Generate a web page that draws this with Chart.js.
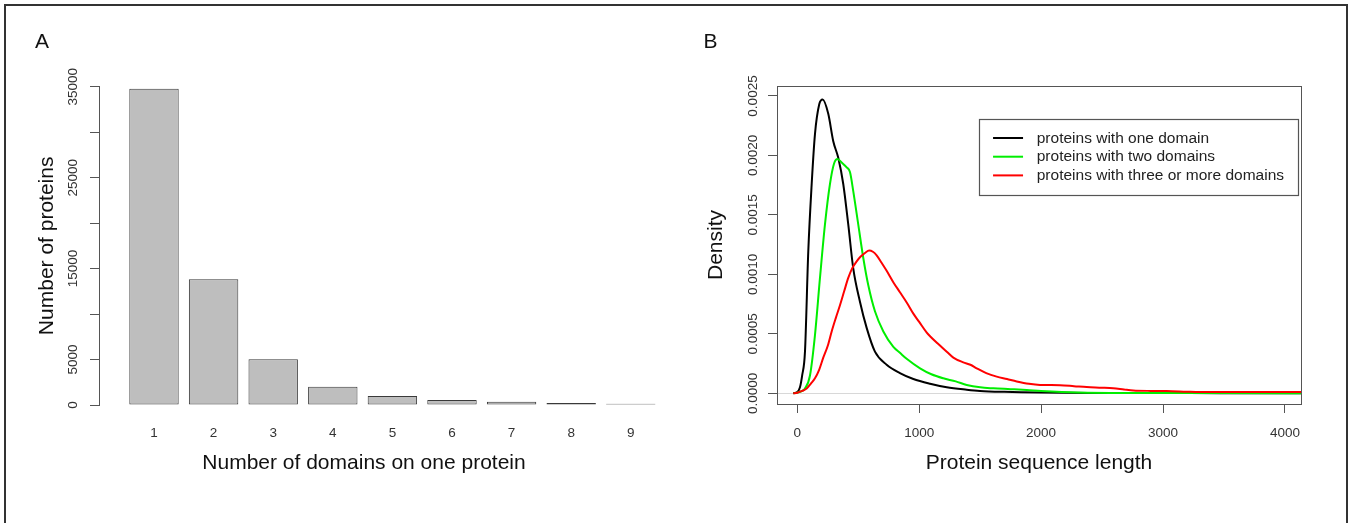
<!DOCTYPE html>
<html><head><meta charset="utf-8">
<script src="https://cdn.jsdelivr.net/npm/chart.js@4.4.1/dist/chart.umd.min.js"></script>
<style>
html,body{margin:0;padding:0;background:#fff;overflow:hidden;width:1353px;height:523px;}
#frame{position:absolute;left:4px;top:4px;width:1344px;height:560px;box-sizing:border-box;border:2px solid #333;border-bottom:none;}
#ca{position:absolute;left:0;top:0;}
#cb{position:absolute;left:680px;top:0;}
</style></head><body>
<div id="frame"></div>
<canvas id="ca" width="680" height="523"></canvas>
<canvas id="cb" width="673" height="523"></canvas>
<script>
// ---- Panel A data ----
const domainCounts = [1, 2, 3, 4, 5, 6, 7, 8, 9];
const proteinCounts = [34780, 13820, 5020, 2010, 990, 550, 360, 220, 140];
const countTicks = [0, 5000, 10000, 15000, 20000, 25000, 30000, 35000];
const countTickLabels = ['0', '5000', '', '15000', '', '25000', '', '35000'];

// ---- Panel B data ----
const lengthTicks = [0, 1000, 2000, 3000, 4000];
const lengthTickLabels = ['0', '1000', '2000', '3000', '4000'];
const densityTicks = [0, 0.0005, 0.001, 0.0015, 0.002, 0.0025];
const densityTickLabels = ['0.0000', '0.0005', '0.0010', '0.0015', '0.0020', '0.0025'];

const seriesNames = ['proteins with one domain', 'proteins with two domains', 'proteins with three or more domains'];

const oneDomainX = [-33, 0, 22, 40, 63, 90, 118, 145, 180, 208, 254, 295, 336, 377, 418, 459, 514, 569, 637, 733, 842, 952, 1089, 1226, 1390, 1499, 1700, 2000, 2500, 3000, 3500, 4132];
const oneDomainY = [0, 0.00001, 0.00005, 0.00015, 0.00035, 0.00119, 0.00176, 0.00218, 0.00243, 0.00247, 0.00235, 0.00212, 0.00198, 0.00176, 0.00142, 0.00105, 0.00077, 0.00055, 0.00035, 0.00024, 0.00017, 0.00012, 0.00008, 0.00005, 0.00003, 0.00002, 0.000012, 0.000006, 0.000003, 0.000002, 0.000001, 0.000001];

const twoDomainX = [-30, 0, 40, 63, 104, 145, 186, 227, 268, 301, 330, 364, 405, 432, 459, 500, 541, 582, 637, 706, 788, 842, 897, 1007, 1100, 1198, 1300, 1390, 1500, 1608, 1750, 1882, 2000, 2300, 2800, 3500, 4132];
const twoDomainY = [0, 0.000005, 0.00002, 0.00004, 0.00015, 0.00049, 0.00097, 0.00142, 0.00176, 0.00193, 0.00197, 0.00194, 0.0019, 0.00186, 0.0017, 0.00142, 0.00114, 0.00091, 0.00069, 0.00052, 0.00039, 0.00034, 0.00029, 0.00021, 0.00016, 0.000126, 0.0001, 0.00007, 0.00005, 0.000042, 0.000035, 0.000028, 0.00002, 0.000007, 0.000003, 0.000002, 0.000001];

const threeDomainX = [-33, 0, 40, 77, 110, 145, 180, 213, 250, 282, 315, 350, 385, 418, 450, 487, 520, 555, 590, 620, 651, 690, 733, 790, 842, 900, 952, 1000, 1062, 1089, 1150, 1226, 1280, 1362, 1420, 1472, 1550, 1636, 1720, 1800, 1900, 1991, 2155, 2270, 2374, 2500, 2592, 2680, 2756, 2900, 3030, 3194, 3300, 3440, 3713, 3900, 4132];
const threeDomainY = [0, 0.000005, 0.00002, 0.00004, 0.00008, 0.000126, 0.0002, 0.0003, 0.0004, 0.00052, 0.00063, 0.00074, 0.00086, 0.00097, 0.00105, 0.00111, 0.00115, 0.00118, 0.0012, 0.00119, 0.00116, 0.0011, 0.00103, 0.00093, 0.00085, 0.00076, 0.00067, 0.0006, 0.00051, 0.00048, 0.00042, 0.00035, 0.0003, 0.00026, 0.00024, 0.00021, 0.00017, 0.00014, 0.00012, 0.0001, 0.00008, 0.00007, 0.000068, 0.00006, 0.000052, 0.000047, 0.000042, 0.000032, 0.000024, 0.00002, 0.000019, 0.000014, 0.000011, 0.00001, 0.000011, 0.00001, 0.000011];

const FONT = "'Liberation Sans', Arial, Helvetica, sans-serif";
Chart.defaults.font.family = FONT;
Chart.defaults.color = '#333';

const zip = (xs, ys) => xs.map((x, i) => ({x: x, y: ys[i]}));

// ---------------- Panel A ----------------
new Chart(document.getElementById('ca'), {
  type: 'bar',
  data: {
    datasets: [{
      data: zip(domainCounts, proteinCounts),
      backgroundColor: '#bebebe',
      borderColor: '#3a3a3a',
      borderWidth: 1,
      borderSkipped: false,
      categoryPercentage: 1,
      barPercentage: 0.829,
      clip: false
    }]
  },
  options: {
    responsive: false,
    animation: false,
    devicePixelRatio: 1,
    layout: {padding: {left: 35, right: 51, top: 0, bottom: 0}},
    plugins: {
      legend: {display: false},
      tooltip: {enabled: false},
      title: {display: true, text: 'A', align: 'start', color: '#111',
        font: {size: 21, weight: 'normal'}, padding: {top: 30, bottom: 31.5}}
    },
    scales: {
      x: {
        type: 'linear', min: 0.0772, max: 8.970, offset: false,
        afterFit: s => { s.height = 118; },
        afterBuildTicks: s => { s.ticks = domainCounts.map(v => ({value: v})); },
        grid: {display: false, offset: false},
        border: {display: false},
        ticks: {autoSkip: false, padding: 11.8, color: '#333', font: {size: 13.5},
          callback: (v, i) => String(domainCounts[i])},
        title: {display: true, text: 'Number of domains on one protein', color: '#111',
          font: {size: 21}, padding: {top: 0, bottom: 47.4}}
      },
      y: {
        min: 0, max: 35000,
        afterFit: s => { s.width = 64; },
        afterBuildTicks: s => { s.ticks = countTicks.map(v => ({value: v})); },
        grid: {drawOnChartArea: false, drawTicks: true, tickLength: 9, color: '#555', tickColor: '#555'},
        border: {display: true, color: '#555', width: 1},
        ticks: {autoSkip: false, minRotation: 90, maxRotation: 90, crossAlign: 'center', padding: -1.8,
          color: '#333', font: {size: 13.5}, callback: (v, i) => countTickLabels[i]},
        title: {display: true, text: 'Number of proteins', color: '#111',
          font: {size: 21}, padding: {top: 0, bottom: 0}}
      }
    }
  }
});

// ---------------- Panel B ----------------
const framePlugin = {
  id: 'frameBox',
  afterDatasetsDraw(chart) {
    const {ctx, chartArea: a} = chart;
    ctx.save();
    ctx.strokeStyle = '#555';
    ctx.lineWidth = 1;
    ctx.strokeRect(Math.round(a.left) + 0.5, Math.round(a.top) + 0.5, Math.round(a.right - a.left), Math.round(a.bottom - a.top));
    ctx.restore();
  }
};

const legendBoxPlugin = {
  id: 'legendBox',
  afterDraw(chart, args, o) {
    const {ctx, chartArea: a} = chart;
    const ds = chart.data.datasets;
    ctx.save();
    ctx.font = o.fontSize + 'px ' + FONT;
    const maxW = Math.max(...ds.map(d => ctx.measureText(d.label).width));
    const w = o.textOffset + maxW + o.padRight;
    const right = a.right - o.marginRight;
    const left = right - w;
    const top = a.top + o.marginTop;
    ctx.fillStyle = '#fff';
    ctx.fillRect(left, top, w, o.height);
    ctx.strokeStyle = '#555';
    ctx.lineWidth = 1.2;
    ctx.strokeRect(Math.round(left) + 0.5, Math.round(top) + 0.5, Math.round(w), Math.round(o.height));
    ds.forEach((d, i) => {
      const y = top + o.firstRow + i * o.rowGap;
      ctx.strokeStyle = d.borderColor;
      ctx.lineWidth = 2;
      ctx.beginPath();
      ctx.moveTo(left + o.lineStart, y);
      ctx.lineTo(left + o.lineEnd, y);
      ctx.stroke();
      ctx.fillStyle = '#222';
      ctx.textBaseline = 'middle';
      ctx.textAlign = 'left';
      ctx.fillText(d.label, left + o.textOffset, y + 0.5);
    });
    ctx.restore();
  }
};

const lineStyle = {borderWidth: 2, pointRadius: 0, cubicInterpolationMode: 'monotone', fill: false};

new Chart(document.getElementById('cb'), {
  type: 'line',
  data: {
    datasets: [
      Object.assign({label: seriesNames[0], data: zip(oneDomainX, oneDomainY), borderColor: '#000000', order: 3}, lineStyle),
      Object.assign({label: seriesNames[1], data: zip(twoDomainX, twoDomainY), borderColor: '#00ee00', order: 2}, lineStyle),
      Object.assign({label: seriesNames[2], data: zip(threeDomainX, threeDomainY), borderColor: '#ff0000', order: 1}, lineStyle)
    ]
  },
  plugins: [framePlugin, legendBoxPlugin],
  options: {
    responsive: false,
    animation: false,
    devicePixelRatio: 1,
    layout: {padding: {left: 23.5, right: 52, top: 0, bottom: 0}},
    plugins: {
      legend: {display: false},
      tooltip: {enabled: false},
      title: {display: true, text: 'B', align: 'start', color: '#111',
        font: {size: 21, weight: 'normal'}, padding: {top: 30, bottom: 30.8}},
      legendBox: {fontSize: 15.5, textOffset: 57.7, padRight: 14, marginRight: 3, marginTop: 33,
        height: 76, firstRow: 19, rowGap: 18.7, lineStart: 14, lineEnd: 44}
    },
    scales: {
      x: {
        type: 'linear', min: -166.5, max: 4132,
        afterFit: s => { s.height = 119; },
        afterBuildTicks: s => { s.ticks = lengthTicks.map(v => ({value: v})); },
        grid: {drawOnChartArea: false, drawTicks: true, tickLength: 9, color: '#555', tickColor: '#555'},
        border: {display: false},
        ticks: {autoSkip: false, maxRotation: 0, padding: 11.8, color: '#333', font: {size: 13.5},
          callback: (v, i) => lengthTickLabels[i]},
        title: {display: true, text: 'Protein sequence length', color: '#111',
          font: {size: 21}, padding: {top: 0, bottom: 47.4}}
      },
      y: {
        min: -0.00009, max: 0.002584,
        afterFit: s => { s.width = 73.5; },
        afterBuildTicks: s => { s.ticks = densityTicks.map(v => ({value: v})); },
        grid: {drawOnChartArea: true, drawTicks: true, tickLength: 9, tickColor: '#555',
          color: c => (c.tick && c.tick.value === 0) ? '#d8d8d8' : 'rgba(0,0,0,0)'},
        border: {display: false},
        ticks: {autoSkip: false, minRotation: 90, maxRotation: 90, crossAlign: 'center', padding: -5.6,
          color: '#333', font: {size: 13.5}, callback: (v, i) => densityTickLabels[i]},
        title: {display: true, text: 'Density', color: '#111',
          font: {size: 21}, padding: {top: 0, bottom: 0}}
      }
    }
  }
});
</script>
</body></html>
